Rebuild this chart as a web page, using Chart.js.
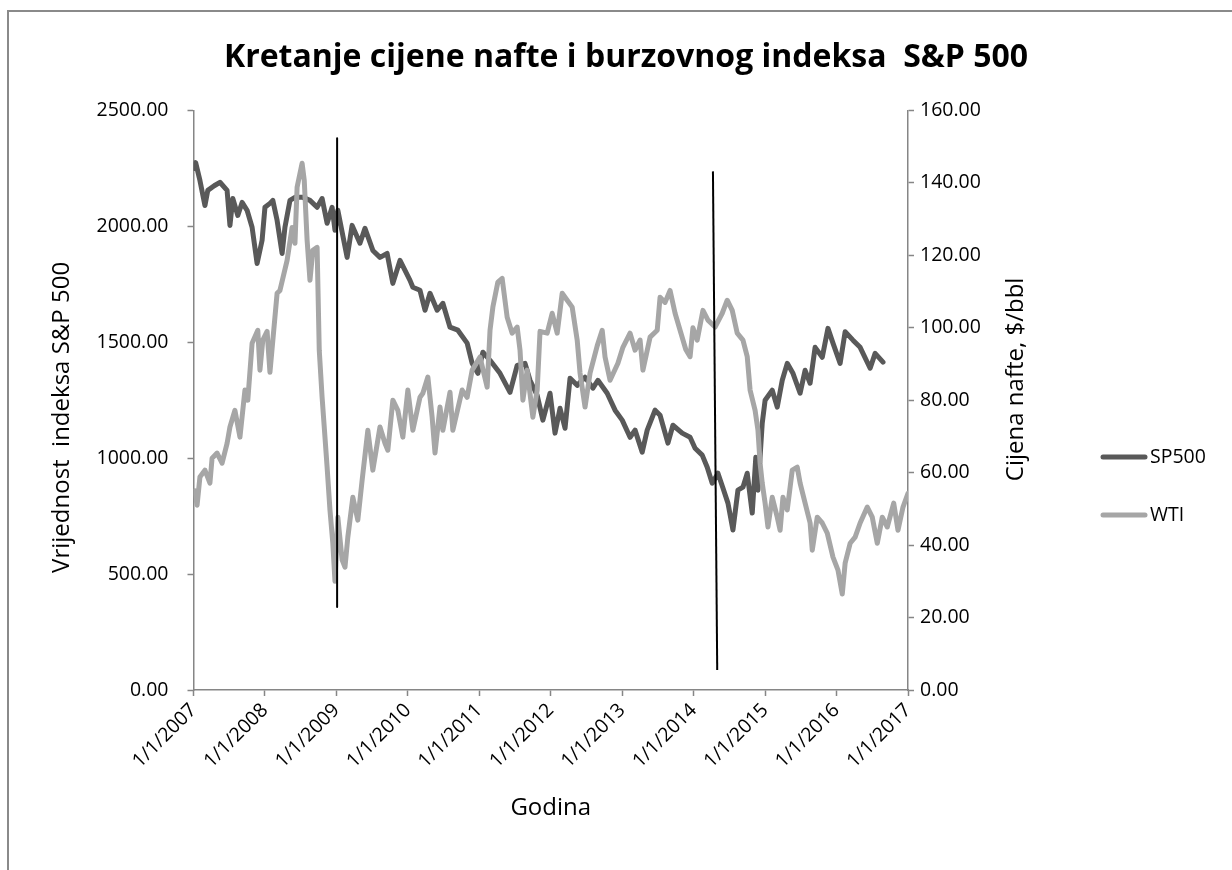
<!DOCTYPE html>
<html>
<head>
<meta charset="utf-8">
<title>Kretanje cijene nafte i burzovnog indeksa S&amp;P 500</title>
<script src="https://cdn.jsdelivr.net/npm/chart.js@4.4.0/dist/chart.umd.min.js"></script>
<style>
  html, body { margin: 0; padding: 0; background: #fff; }
  #wrap { position: relative; width: 1232px; height: 870px; overflow: hidden; }
  #frame {
    position: absolute; left: 7px; top: 10px; width: 1250px; height: 900px;
    border-left: 2px solid #8a8a8a; border-top: 2px solid #8a8a8a; box-sizing: border-box;
  }
  canvas { position: absolute; left: 0; top: 0; }
</style>
</head>
<body>
<div id="wrap">
  <div id="frame"></div>
  <canvas id="chart" width="1232" height="870"></canvas>
</div>
<script>
// ---------------- podaci (ocitano sa slike) ----------------
const CHART_TITLE = 'Kretanje cijene nafte i burzovnog indeksa  S&P 500';
const X_TITLE = 'Godina';
const Y_TITLE = 'Vrijednost  indeksa S&P 500';
const Y1_TITLE = 'Cijena nafte, $/bbl';

const xTickYears = [2007, 2008, 2009, 2010, 2011, 2012, 2013, 2014, 2015, 2016, 2017];

// SP500 (lijeva os)
const spYears = [
  2007.01, 2007.03, 2007.09, 2007.16, 2007.20, 2007.29, 2007.37, 2007.47, 2007.51, 2007.55,
  2007.62, 2007.68, 2007.75, 2007.82, 2007.89, 2007.96, 2008.00, 2008.07, 2008.11, 2008.17,
  2008.24, 2008.28, 2008.35, 2008.42, 2008.53, 2008.63, 2008.73, 2008.80, 2008.87, 2008.94,
  2008.98, 2009.02, 2009.15, 2009.22, 2009.33, 2009.40, 2009.51, 2009.61, 2009.71, 2009.79,
  2009.89, 2010.03, 2010.07, 2010.17, 2010.24, 2010.31, 2010.41, 2010.49, 2010.59, 2010.70,
  2010.83, 2010.90, 2010.98, 2011.05, 2011.15, 2011.29, 2011.43, 2011.53, 2011.64, 2011.71,
  2011.81, 2011.89, 2011.99, 2012.06, 2012.13, 2012.20, 2012.27, 2012.37, 2012.48, 2012.59,
  2012.66, 2012.79, 2012.90, 2013.00, 2013.11, 2013.18, 2013.28, 2013.35, 2013.46, 2013.53,
  2013.64, 2013.71, 2013.84, 2013.95, 2014.02, 2014.12, 2014.19, 2014.26, 2014.34, 2014.41,
  2014.48, 2014.55, 2014.62, 2014.69, 2014.75, 2014.82, 2014.87, 2014.90, 2014.96, 2015.00,
  2015.10, 2015.17, 2015.24, 2015.31, 2015.39, 2015.49, 2015.56, 2015.63, 2015.70, 2015.80,
  2015.88, 2015.95, 2016.05, 2016.12, 2016.23, 2016.33, 2016.47, 2016.54, 2016.65
];
const spValues = [
  2250, 2275, 2198, 2090, 2155, 2175, 2190, 2155, 2004, 2120,
  2047, 2103, 2069, 1996, 1840, 1940, 2082, 2099, 2112, 2026,
  1883, 1996, 2112, 2125, 2125, 2112, 2082, 2120, 2013, 2082,
  1983, 2069, 1866, 2004, 1927, 1991, 1896, 1866, 1883, 1754,
  1853, 1767, 1737, 1724, 1638, 1711, 1638, 1668, 1565, 1552,
  1496, 1409, 1366, 1457, 1422, 1366, 1284, 1400, 1409, 1336,
  1271, 1164, 1280, 1108, 1215, 1129, 1345, 1314, 1349, 1302,
  1336, 1280, 1207, 1164, 1090, 1121, 1026, 1121, 1207, 1185,
  1065, 1142, 1108, 1090, 1043, 1013, 961, 892, 935, 871,
  806, 690, 862, 875, 935, 763, 1004, 862, 1151, 1250,
  1293, 1220, 1336, 1409, 1366, 1280, 1379, 1323, 1478, 1435,
  1560, 1496, 1409, 1545, 1509, 1478, 1388, 1452, 1414
];

// WTI (desna os)
const wtiYears = [
  2007.02, 2007.05, 2007.09, 2007.16, 2007.23, 2007.26, 2007.33, 2007.40, 2007.47, 2007.51,
  2007.58, 2007.65, 2007.72, 2007.76, 2007.82, 2007.90, 2007.93, 2007.97, 2008.03, 2008.07,
  2008.17, 2008.21, 2008.31, 2008.38, 2008.42, 2008.45, 2008.52, 2008.55, 2008.59, 2008.63,
  2008.67, 2008.73, 2008.76, 2008.80, 2008.84, 2008.87, 2008.91, 2008.95, 2008.98, 2009.02,
  2009.08, 2009.12, 2009.16, 2009.23, 2009.30, 2009.36, 2009.44, 2009.51, 2009.61, 2009.68,
  2009.72, 2009.79, 2009.86, 2009.93, 2010.00, 2010.07, 2010.17, 2010.21, 2010.28, 2010.34,
  2010.38, 2010.45, 2010.49, 2010.59, 2010.63, 2010.76, 2010.83, 2010.90, 2011.01, 2011.11,
  2011.15, 2011.19, 2011.26, 2011.32, 2011.39, 2011.46, 2011.53, 2011.57, 2011.61, 2011.67,
  2011.75, 2011.81, 2011.85, 2011.95, 2012.02, 2012.09, 2012.16, 2012.23, 2012.30, 2012.37,
  2012.41, 2012.48, 2012.55, 2012.65, 2012.72, 2012.76, 2012.83, 2012.94, 2013.01, 2013.11,
  2013.18, 2013.25, 2013.29, 2013.39, 2013.49, 2013.53, 2013.60, 2013.67, 2013.74, 2013.81,
  2013.89, 2013.95, 2013.99, 2014.05, 2014.13, 2014.20, 2014.30, 2014.40, 2014.47, 2014.54,
  2014.61, 2014.69, 2014.75, 2014.79, 2014.86, 2014.90, 2014.93, 2014.96, 2015.00, 2015.04,
  2015.10, 2015.17, 2015.21, 2015.25, 2015.31, 2015.38, 2015.45, 2015.49, 2015.56, 2015.63,
  2015.66, 2015.73, 2015.80, 2015.87, 2015.95, 2016.02, 2016.08, 2016.12, 2016.19, 2016.26,
  2016.33, 2016.43, 2016.50, 2016.57, 2016.64, 2016.71, 2016.80, 2016.86, 2016.93, 2017.00
];
const wtiValues = [
  55, 51, 58.8, 60.7, 57.1, 64, 65.4, 62.6, 68.1, 72.6,
  77.2, 69.8, 82.8, 80, 95.7, 99.3, 88.3, 96.6, 99, 87.7,
  109.5, 110.3, 118.6, 127.7, 123.3, 138.8, 145.4, 140.7, 124.2, 113.1,
  121.4, 122.2, 93.8, 80.8, 69.8, 61.5, 49.7, 40.5, 30, 47.7,
  35.9, 33.9, 42.2, 53.2, 46.9, 57.9, 71.7, 60.7, 72.6, 68.1,
  66.2, 80, 77.2, 69.8, 82.8, 71.7, 80.8, 81.9, 86.4, 75.3,
  65.4, 78.1, 71.7, 82.2, 71.7, 82.8, 80.8, 88.3, 91.9, 83.6,
  99.3, 105.7, 112.6, 113.6, 102.9, 98.5, 100.2, 93.8, 80, 88.3,
  75.3, 82.8, 99, 98.5, 104, 98.5, 109.5, 107.6, 105.7, 96.6,
  87.5, 78.1, 87.5, 95, 99.3, 91.9, 85.5, 90.2, 94.6, 98.5,
  93.8, 96.6, 88.3, 97.4, 99.3, 108.4, 107, 110.3, 104, 99.3,
  94, 92, 100, 96.6, 104.8, 102.1, 100.2, 104, 107.6, 104.8,
  98.5, 96.6, 92, 82.8, 77.2, 71.7, 62.6, 57.1, 51.6, 45,
  53.2, 47.7, 44.1, 53.2, 49.7, 60.7, 61.5, 57.1, 51.6, 46.1,
  38.6, 47.7, 46.1, 43.3, 36.7, 33.1, 26.5, 35, 40.5, 42.2,
  46.1, 50.5, 47.7, 40.5, 47.7, 45, 51.6, 44.1, 50.5, 54.3
];

// dvije rucno ucrtane okomite crte (u jedinicama lijeve osi)
const mark1Years = [2009.01, 2009.01];
const mark1Values = [2380, 358];
const mark2Years = [2014.27, 2014.33];
const mark2Values = [2237, 86];

// ---------------- izgled ----------------
const FONT = "'Open Sans', 'DejaVu Sans', sans-serif";
const AXIS_GRAY = '#868686';
const SP_COLOR = '#595959';
const WTI_COLOR = '#a6a6a6';

function toPoints(xs, ys) {
  return xs.map((x, i) => ({ x, y: ys[i] }));
}

const tickFont = { family: FONT, size: 19.5 };
const axisTitleFont = { family: FONT, size: 24 };

function drawRotated(ctx, text, x, y) {
  ctx.save();
  ctx.translate(x, y);
  ctx.rotate(-Math.PI / 2);
  ctx.textAlign = 'center';
  ctx.textBaseline = 'middle';
  ctx.fillText(text, 0, 0);
  ctx.restore();
}

// naslovi okomitih osi (citaju se odozdo prema gore) i legenda desno
const sideText = {
  id: 'sideText',
  afterDraw(chart) {
    const { ctx, chartArea } = chart;
    ctx.save();
    ctx.fillStyle = '#000';
    ctx.font = `${axisTitleFont.size}px ${FONT}`;
    drawRotated(ctx, Y_TITLE, chartArea.left - 131, chartArea.top + 307);
    drawRotated(ctx, Y1_TITLE, chartArea.right + 108, chartArea.top + 269);
    ctx.restore();

    const items = chart.data.datasets.filter(ds => ds.inLegend);
    items.sort((a, b) => a.legendIndex - b.legendIndex);
    ctx.save();
    ctx.font = `${tickFont.size}px ${FONT}`;
    ctx.textAlign = 'left';
    ctx.textBaseline = 'middle';
    items.forEach((ds, i) => {
      const y = 457 + i * 58;
      ctx.strokeStyle = ds.borderColor;
      ctx.lineWidth = ds.borderWidth;
      ctx.lineCap = 'round';
      ctx.beginPath();
      ctx.moveTo(1103, y);
      ctx.lineTo(1145, y);
      ctx.stroke();
      ctx.fillStyle = '#000';
      ctx.fillText(ds.label, 1150, y);
    });
    ctx.restore();
  }
};

const chart = new Chart(document.getElementById('chart'), {
  type: 'line',
  data: {
    datasets: [
      {
        label: 'crta 2009', data: toPoints(mark1Years, mark1Values), yAxisID: 'y',
        borderColor: '#000', borderWidth: 2, borderCapStyle: 'butt', order: 0
      },
      {
        label: 'crta 2014', data: toPoints(mark2Years, mark2Values), yAxisID: 'y',
        borderColor: '#000', borderWidth: 2, borderCapStyle: 'butt', order: 0
      },
      {
        label: 'WTI', data: toPoints(wtiYears, wtiValues), yAxisID: 'y1',
        borderColor: WTI_COLOR, borderWidth: 5, order: 1, inLegend: true, legendIndex: 1
      },
      {
        label: 'SP500', data: toPoints(spYears, spValues), yAxisID: 'y',
        borderColor: SP_COLOR, borderWidth: 5, order: 2, inLegend: true, legendIndex: 0
      }
    ]
  },
  options: {
    responsive: false,
    animation: false,
    layout: { padding: { left: 20, right: 0, top: 0, bottom: 0 } },
    elements: {
      point: { radius: 0 },
      line: { tension: 0, borderJoinStyle: 'round', borderCapStyle: 'round' }
    },
    plugins: {
      legend: { display: false },
      tooltip: { enabled: false },
      title: {
        display: true,
        text: CHART_TITLE,
        color: '#000',
        font: { family: FONT, size: 32, weight: 'bold' },
        padding: { top: 39, bottom: 33 }
      }
    },
    scales: {
      x: {
        type: 'linear',
        min: xTickYears[0],
        max: xTickYears[xTickYears.length - 1],
        afterBuildTicks: s => { s.ticks = xTickYears.map(v => ({ value: v })); },
        ticks: {
          autoSkip: false, maxRotation: 45, minRotation: 45, padding: 3,
          color: '#000', font: tickFont,
          callback: v => '1/1/' + v
        },
        grid: { drawOnChartArea: false, tickLength: 6, tickColor: AXIS_GRAY, tickWidth: 1.5 },
        border: { color: AXIS_GRAY, width: 1.5 },
        title: { display: true, text: X_TITLE, color: '#000', font: axisTitleFont, padding: { top: 0, bottom: 47 } },
        afterFit: s => { s.height = 180; }
      },
      y: {
        position: 'left',
        min: 0, max: 2500,
        ticks: { stepSize: 500, padding: 19, color: '#000', font: tickFont, callback: v => v.toFixed(2) },
        grid: { drawOnChartArea: false, tickLength: 6, tickColor: AXIS_GRAY, tickWidth: 1.5 },
        border: { color: AXIS_GRAY, width: 1.5 },
        afterFit: s => { s.width = 173.5; }
      },
      y1: {
        position: 'right',
        min: 0, max: 160,
        ticks: { stepSize: 20, padding: 6, color: '#000', font: tickFont, callback: v => v.toFixed(2) },
        grid: { drawOnChartArea: false, tickLength: 6, tickColor: AXIS_GRAY, tickWidth: 1.5 },
        border: { color: AXIS_GRAY, width: 1.5 },
        afterFit: s => { s.width = 324; }
      }
    }
  },
  plugins: [sideText]
});
</script>
</body>
</html>
